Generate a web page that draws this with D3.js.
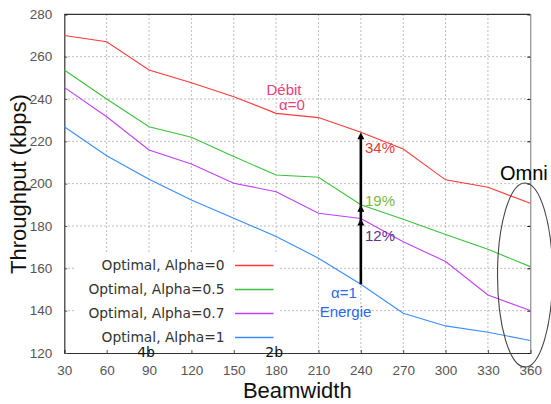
<!DOCTYPE html>
<html><head><meta charset="utf-8">
<script src="https://cdn.jsdelivr.net/npm/d3@7"></script>
<style>body{margin:0;background:#fff}svg{display:block}</style>
</head><body>
<svg id="c" width="551" height="404"></svg>
<script>
const beamwidths = [30,60,90,120,150,180,210,240,270,300,330,360];
const alpha0   = [270,267,253.7,247.7,241.1,233.2,231.2,224.3,216.4,201.8,198.3,190.7];
const alpha05  = [253.7,240,226.9,221.9,212.8,204.1,203,190,183.2,176,169,160.8];
const alpha07  = [245.5,231.6,215.9,209.3,200.2,196.2,186,183.5,172.6,163.2,147.4,140.1];
const alpha1   = [226.9,213.2,202.1,192.3,183.7,175,164.8,152.5,138.8,132.8,129.8,125.9];
const seriesNames = ["Optimal, Alpha=0","Optimal, Alpha=0.5","Optimal, Alpha=0.7","Optimal, Alpha=1"];
const seriesColors = ["#ff3a3a","#3cc23c","#c040ff","#3a8cff"];
const yTicks = [120,140,160,180,200,220,240,260,280];
const xTicks = beamwidths;
const gains = ["34%","19%","12%"];

const svg = d3.select("#c");
const x = d3.scaleLinear().domain([30,360]).range([64.3,530.3]);
const y = d3.scaleLinear().domain([120,280]).range([353,14.3]);
const series = [alpha0, alpha05, alpha07, alpha1];

// grid
const grid = svg.append("g").attr("stroke","#a8a8a8").attr("stroke-width",1).attr("stroke-dasharray","1.5,2.5");
grid.selectAll("line.v").data(xTicks.slice(1,-1)).join("line")
  .attr("x1",d=>x(d)).attr("x2",d=>x(d)).attr("y1",y(280)).attr("y2",y(120));
grid.selectAll("line.h").data(yTicks.slice(1,-1)).join("line")
  .attr("x1",x(30)).attr("x2",x(360)).attr("y1",d=>y(d)).attr("y2",d=>y(d));

// legend background (hides grid)
svg.append("rect").attr("x",74).attr("y",252).attr("width",206).attr("height",100).attr("fill","#fff");

// axes
const fmt = d3.format("d");
const gx = svg.append("g").attr("transform",`translate(0,${y(120)})`)
  .call(d3.axisBottom(x).tickValues(xTicks).tickSize(-3).tickPadding(10).tickFormat(fmt));
const gy = svg.append("g").attr("transform",`translate(${x(30)},0)`)
  .call(d3.axisLeft(y).tickValues(yTicks).tickSize(-3).tickPadding(12).tickFormat(fmt));
[gx,gy].forEach(g=>{
  g.select(".domain").attr("stroke","#333").attr("stroke-width",1.2);
  g.selectAll(".tick line").attr("stroke","#555");
  g.selectAll(".tick text").attr("fill","#555").attr("font-family","Liberation Sans, Arial, sans-serif").attr("font-size",13.5);
});
gx.selectAll(".tick text").attr("dy","0.9em");
// top / right frame
svg.append("line").attr("x1",x(30)).attr("x2",x(360)).attr("y1",y(280)).attr("y2",y(280)).attr("stroke","#333").attr("stroke-width",1.2);
const gr = svg.append("g").attr("transform",`translate(${x(360)},0)`)
  .call(d3.axisRight(y).tickValues(yTicks).tickSize(-3).tickFormat(""));
gr.select(".domain").attr("stroke","#777");
gr.selectAll(".tick line").attr("stroke","#111");

// lines
const line = d3.line().x((d,i)=>x(beamwidths[i])).y(d=>y(d));
svg.append("g").selectAll("path").data(series).join("path")
  .attr("d",line).attr("fill","none").attr("stroke",(d,i)=>seriesColors[i]).attr("stroke-width",1.1);

// legend
const lg = svg.append("g");
const rowsY = [265.5,289.5,313.5,337.5];
seriesNames.forEach((n,i)=>{
  lg.append("text").attr("x",224.5).attr("y",rowsY[i]).attr("dy","0.35em").attr("text-anchor","end")
    .attr("font-family","DejaVu Sans, sans-serif").attr("font-size",13.8).attr("fill","#333").text(n);
  lg.append("line").attr("x1",235).attr("x2",273.5).attr("y1",rowsY[i]).attr("y2",rowsY[i])
    .attr("stroke",seriesColors[i]).attr("stroke-width",1.3);
});

// bandwidth labels
svg.append("text").attr("x",x(90)-3).attr("y",357).attr("text-anchor","middle").attr("font-family","DejaVu Sans, sans-serif").attr("font-size",14).attr("fill","#111").text("4b");
svg.append("text").attr("x",x(180)-2).attr("y",357).attr("text-anchor","middle").attr("font-family","DejaVu Sans, sans-serif").attr("font-size",14).attr("fill","#111").text("2b");

// axis titles
svg.append("text").attr("x",x(195)).attr("y",398).attr("text-anchor","middle")
  .attr("font-family","Liberation Sans, Arial, sans-serif").attr("font-size",22).attr("fill","#111").text("Beamwidth");
svg.append("text").attr("transform","translate(26,184) rotate(-90)").attr("text-anchor","middle")
  .attr("font-family","Liberation Sans, Arial, sans-serif").attr("font-size",22).attr("fill","#111").text("Throughput (kbps)");

// arrow at 240
const ai = beamwidths.indexOf(240);
const ax = x(240);
svg.append("line").attr("x1",ax).attr("x2",ax).attr("y1",y(alpha1[ai])).attr("y2",y(alpha0[ai])+4)
  .attr("stroke","#000").attr("stroke-width",2.6);
[alpha0[ai],alpha05[ai],alpha07[ai]].forEach(v=>{
  const ty = y(v);
  svg.append("path").attr("d",`M${ax},${ty} L${ax-3.5},${ty+7} L${ax+3.5},${ty+7} Z`).attr("fill","#000");
});

// annotations
const af = "Liberation Sans, Arial, sans-serif";
svg.append("text").attr("x",266.5).attr("y",94.5).attr("font-family",af).attr("font-size",15).attr("fill","#e8407a").text("Débit");
svg.append("text").attr("x",279).attr("y",110).attr("font-family",af).attr("font-size",15).attr("fill","#e8407a").text("α=0");
svg.append("text").attr("x",365).attr("y",153).attr("font-family",af).attr("font-size",15).attr("fill","#e83a3a").text(gains[0]);
svg.append("text").attr("x",365).attr("y",205.5).attr("font-family",af).attr("font-size",15).attr("fill","#77bb44").text(gains[1]);
svg.append("text").attr("x",365).attr("y",241).attr("font-family",af).attr("font-size",15).attr("fill","#6a2a8e").text(gains[2]);
svg.append("text").attr("x",344).attr("y",298).attr("text-anchor","middle").attr("font-family",af).attr("font-size",15).attr("fill","#2a6aee").text("α=1");
svg.append("text").attr("x",345.5).attr("y",317).attr("text-anchor","middle").attr("font-family",af).attr("font-size",15).attr("fill","#2a6aee").text("Energie");

// Omni
svg.append("ellipse").attr("cx",525).attr("cy",275).attr("rx",27.5).attr("ry",92)
  .attr("fill","none").attr("stroke","#444").attr("stroke-width",1.1);
svg.append("text").attr("x",500).attr("y",180).attr("font-family",af).attr("font-size",20).attr("fill","#000").text("Omni");
</script>
</body></html>
